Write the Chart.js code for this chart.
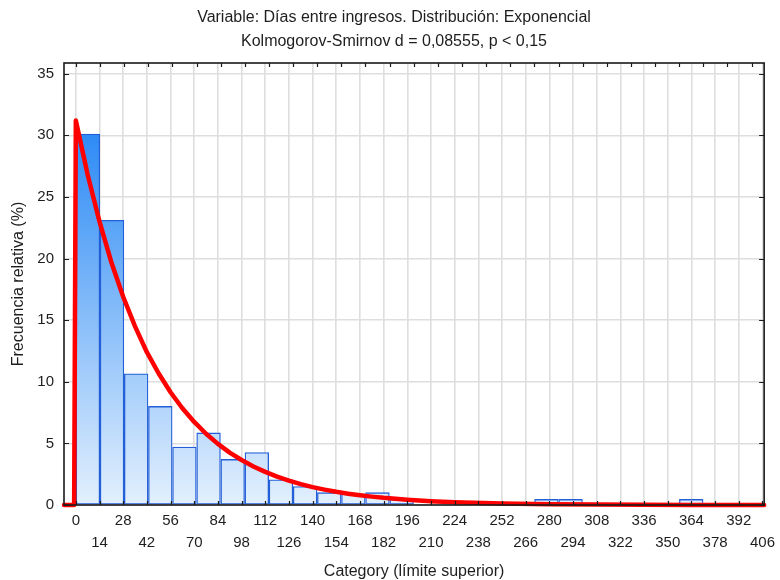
<!DOCTYPE html>
<html><head><meta charset="utf-8">
<script src="https://cdn.jsdelivr.net/npm/chart.js@4.4.1/dist/chart.umd.min.js"></script>
<style>html,body{margin:0;padding:0;background:#fff}#wrap{width:780px;height:580px;position:relative}</style>
</head><body><div id="wrap"><canvas id="c" width="780" height="580"></canvas></div>
<script>
// Histogram bins (lower edges) and relative frequencies (%)
const binWidth = 14.27;
const binLower = [0, 14.27, 28.54, 42.81, 57.08, 71.35, 85.62, 99.89, 114.16, 128.43, 142.70, 156.97, 171.24,
  185.51, 199.78, 214.05, 228.32, 242.59, 256.86, 271.13, 285.40, 299.67, 313.94, 328.21, 342.48, 356.75];
const relFreq = [30.1, 23.1, 10.65, 8.0, 4.7, 5.85, 3.7, 4.25, 2.05, 1.5, 1.0, 0.9, 1.0,
  0.45, 0, 0, 0, 0, 0, 0.45, 0.45, 0, 0, 0, 0, 0.45];
// Fitted exponential curve
const curveX = [-7, -1, 0, 7, 14, 21, 28, 35, 42, 49, 56, 63, 70, 77, 84, 91, 98, 105, 112, 119, 126, 133, 140, 147, 154, 161, 168, 175, 182, 196, 210, 224, 252, 280, 308, 336, 364, 392, 407];
const curveY = [0, 0, 31.2, 26.8, 23.0, 19.7, 16.9, 14.5, 12.4, 10.67, 9.15, 7.85, 6.74, 5.78, 4.96, 4.25, 3.65, 3.13, 2.69, 2.30, 1.98, 1.69, 1.45, 1.25, 1.07, 0.92, 0.79, 0.68, 0.58, 0.43, 0.31, 0.23, 0.13, 0.07, 0.04, 0.02, 0.01, 0.005, 0];
// Axis ticks
const xTickValues = [0, 14, 28, 42, 56, 70, 84, 98, 112, 126, 140, 154, 168, 182, 196, 210, 224, 238, 252, 266, 280, 294, 308, 322, 336, 350, 364, 378, 392, 406];
const yTickValues = [0, 5, 10, 15, 20, 25, 30, 35];
const topTickValues = [0, 14.27, 28.54, 42.81, 57.08, 71.35, 85.62, 99.89, 114.16, 128.43, 142.70, 156.97, 171.24,
  185.51, 199.78, 214.05, 228.32, 242.59, 256.86, 271.13, 285.40, 299.67, 313.94, 328.21, 342.48, 356.75, 371.02, 385.29, 399.56];

const FONT = '"Liberation Sans", Arial, sans-serif';

function barGradient(c) {
  const chart = c.chart;
  if (!chart.chartArea || !chart.scales.y) return 'rgb(120,180,250)';
  const y = chart.scales.y;
  const g = chart.ctx.createLinearGradient(0, y.getPixelForValue(0), 0, y.getPixelForValue(31));
  g.addColorStop(0, 'rgb(227,240,253)');
  g.addColorStop(1, 'rgb(40,136,245)');
  return g;
}

const framePlugin = {
  id: 'frame',
  afterDatasetsDraw(chart) {
    const {ctx, chartArea: a, scales: {x, y}} = chart;
    ctx.save();
    ctx.strokeStyle = '#1a1a1a';
    ctx.lineWidth = 1.2;
    ctx.beginPath();
    xTickValues.forEach(v => { const p = Math.round(x.getPixelForValue(v)) + 0.5; ctx.moveTo(p, a.bottom); ctx.lineTo(p, a.bottom - 4); });
    topTickValues.forEach(v => { const p = Math.round(x.getPixelForValue(v)) + 0.5; ctx.moveTo(p, a.top); ctx.lineTo(p, a.top + 4); });
    yTickValues.forEach(v => { const p = Math.round(y.getPixelForValue(v)) + 0.5;
      ctx.moveTo(a.left, p); ctx.lineTo(a.left + 5, p); ctx.moveTo(a.right, p); ctx.lineTo(a.right - 5, p); });
    ctx.stroke();
    ctx.lineWidth = 1.6;
    ctx.strokeRect(a.left, a.top, a.right - a.left, a.bottom - a.top);
    ctx.restore();
  }
};

new Chart(document.getElementById('c'), {
  data: {
    datasets: [
      {
        type: 'line', order: 0,
        data: curveX.map((v, i) => ({x: v, y: curveY[i]})),
        borderColor: '#ff0000', borderWidth: 4.5, pointRadius: 0,
        tension: 0, borderJoinStyle: 'round', borderCapStyle: 'round', clip: false
      },
      {
        type: 'bar', order: 1,
        data: binLower.map((v, i) => ({x: v + binWidth / 2, y: relFreq[i]})),
        backgroundColor: barGradient,
        borderColor: 'rgb(35,95,215)',
        borderWidth: c => (c.raw && c.raw.y > 0 ? 1.3 : 0),
        borderSkipped: false,
        barPercentage: 1, categoryPercentage: 1, grouped: false
      }
    ]
  },
  options: {
    responsive: false, animation: false, devicePixelRatio: 1,
    layout: {padding: {left: 8, right: 0, top: 0, bottom: 0}},
    plugins: {
      legend: {display: false}, tooltip: {enabled: false},
      title: {
        display: true,
        text: ['Variable: Días entre ingresos. Distribución: Exponencial', 'Kolmogorov-Smirnov d = 0,08555, p < 0,15'],
        color: '#1e1e1e',
        font: {family: FONT, size: 16, weight: 'normal', lineHeight: 24 / 16},
        padding: {top: 6, bottom: 9}
      }
    },
    scales: {
      x: {
        type: 'linear', position: 'bottom', min: -7, max: 407, offset: false,
        afterBuildTicks: s => { s.ticks = xTickValues.map(v => ({value: v})); },
        afterFit: s => { s.height = 75; },
        grid: {color: '#dedede', lineWidth: 1.6, drawTicks: false, offset: false},
        border: {display: false},
        ticks: {
          autoSkip: false, maxRotation: 0, minRotation: 0, padding: 5,
          color: '#1e1e1e', font: {family: FONT, size: 15, lineHeight: 22 / 15},
          callback: function (v, i) { return i % 2 === 0 ? [String(v), ''] : ['', String(v)]; }
        },
        title: {display: true, text: 'Category (límite superior)', color: '#1e1e1e',
          font: {family: FONT, size: 16, lineHeight: 1}, padding: {top: 0, bottom: 0}}
      },
      y: {
        type: 'linear', position: 'left', min: 0, max: 35.87,
        afterBuildTicks: s => { s.ticks = yTickValues.map(v => ({value: v})); },
        afterFit: s => { s.width = 56; },
        grid: {color: '#dedede', lineWidth: 1.6, drawTicks: false},
        border: {display: false},
        ticks: {padding: 10, color: '#1e1e1e', font: {family: FONT, size: 15}},
        title: {display: true, text: 'Frecuencia relativa (%)', color: '#1e1e1e',
          font: {family: FONT, size: 16, lineHeight: 1.2}, padding: {top: 1, bottom: 0}}
      },
      y2: {
        type: 'linear', position: 'right', display: true,
        afterFit: s => { s.width = 12; },
        grid: {display: false, drawTicks: false}, border: {display: false},
        ticks: {display: false}
      }
    }
  },
  plugins: [framePlugin]
});
</script>
</body></html>
